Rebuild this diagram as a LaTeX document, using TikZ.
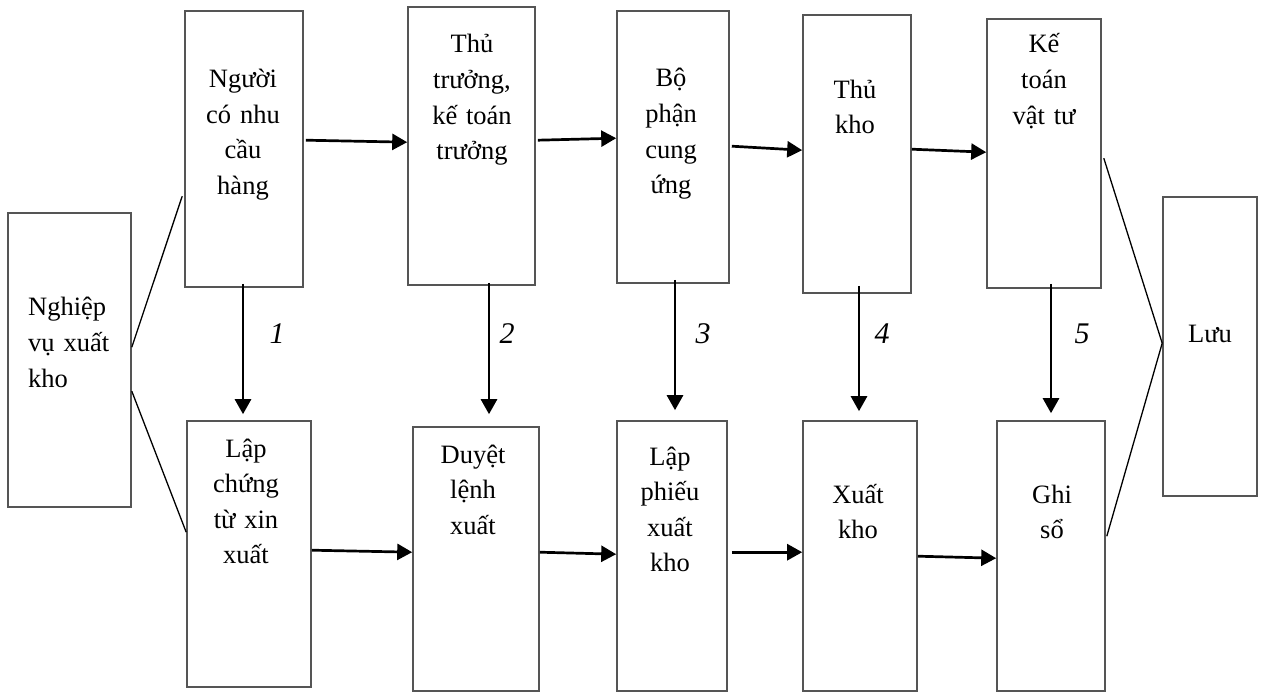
\documentclass[tikz,border=0pt]{standalone}
\usepackage{fontspec}
\setmainfont{Liberation Serif}
\usetikzlibrary{arrows.meta}
\definecolor{bordr}{RGB}{85,85,85}
\begin{document}
\begin{tikzpicture}[x=1pt,y=-1pt,
  box/.style={draw=bordr, line width=1.6pt, inner sep=0pt},
  lbl/.style={font=\fontsize{26.5}{35.5}\selectfont, text width=160pt, align=center, inner sep=0pt, anchor=base},
  num/.style={font=\fontsize{30}{30}\selectfont\itshape, inner sep=0pt, anchor=base},
  arr/.style={line width=2.7pt, -{Triangle[length=15pt,width=16pt]}},
  thin/.style={line width=1.3pt}]
\useasboundingbox (0,0) rectangle (1261,693);
% boxes
\node[box, minimum width=123pt, minimum height=294pt] (nv) at (69.5,360) {};
\node[box, minimum width=118pt, minimum height=276pt] (ng) at (244,149) {};
\node[box, minimum width=124pt, minimum height=266pt] (lc) at (249,554) {};
\node[box, minimum width=127pt, minimum height=278pt] (tt) at (471.5,146) {};
\node[box, minimum width=126pt, minimum height=264pt] (dl) at (476,559) {};
\node[box, minimum width=112pt, minimum height=272pt] (bp) at (673,147) {};
\node[box, minimum width=110pt, minimum height=270pt] (lp) at (672,556) {};
\node[box, minimum width=108pt, minimum height=278pt] (tk) at (857,154) {};
\node[box, minimum width=114pt, minimum height=270pt] (xk) at (860,556) {};
\node[box, minimum width=114pt, minimum height=269pt] (kt) at (1044,153.5) {};
\node[box, minimum width=108pt, minimum height=270pt] (gs) at (1051,556) {};
\node[box, minimum width=94pt, minimum height=299pt] (lu) at (1210,346.5) {};
% texts
\node[lbl, align=left, text width=110pt, anchor=base west, font=\fontsize{26.5}{36}\selectfont] (tnv) at (28,315) {Nghiệp\\vụ xuất\\kho};
\node[lbl] (tng) at (243,88) {Người\\có nhu\\cầu\\hàng};
\node[lbl] (tlc) at (246,457) {Lập\\chứng\\từ xin\\xuất};
\node[lbl] (ttt) at (472,53) {Thủ\\trưởng,\\kế toán\\trưởng};
\node[lbl] (tdl) at (473,463) {Duyệt\\lệnh\\xuất};
\node[lbl] (tbp) at (671,87) {Bộ\\phận\\cung\\ứng};
\node[lbl] (tlp) at (670,465) {Lập\\phiếu\\xuất\\kho};
\node[lbl] (ttk) at (855,98) {Thủ\\kho};
\node[lbl] (txk) at (858,503) {Xuất\\kho};
\node[lbl] (tkt) at (1044,53) {Kế\\toán\\vật tư};
\node[lbl] (tgs) at (1052,503) {Ghi\\sổ};
\node[lbl] (tlu) at (1210,342) {Lưu};
% horizontal arrows
\draw[arr] ([xshift=2pt,yshift=-130pt]ng.north east) -- ([yshift=-136pt]tt.north west);
\draw[arr] ([xshift=2pt,yshift=-134pt]tt.north east) -- ([yshift=-128pt]bp.north west);
\draw[arr] ([xshift=2pt,yshift=-136pt]bp.north east) -- ([yshift=-136pt]tk.north west);
\draw[arr] ([yshift=-135pt]tk.north east) -- ([yshift=-134pt]kt.north west);
\draw[arr] ([yshift=-130pt]lc.north east) -- ([yshift=-126pt]dl.north west);
\draw[arr] ([yshift=-126pt]dl.north east) -- ([yshift=-134pt]lp.north west);
\draw[arr] ([xshift=4pt,yshift=-132pt]lp.north east) -- ([yshift=-132pt]xk.north west);
\draw[arr] ([yshift=-136pt]xk.north east) -- ([yshift=-138pt]gs.north west);
% vertical arrows
\draw[arr] ([xshift=-1pt,yshift=4pt]ng.south) -- ([xshift=-1pt,yshift=6pt]ng.south |- lc.north);
\draw[arr] ([xshift=17.5pt,yshift=3pt]tt.south) -- ([xshift=17.5pt,yshift=12pt]tt.south |- dl.north);
\draw[arr] ([xshift=2pt,yshift=4pt]bp.south) -- ([xshift=2pt,yshift=10pt]bp.south |- lp.north);
\draw[arr] ([xshift=2pt,yshift=8pt]tk.south) -- ([xshift=2pt,yshift=9pt]tk.south |- xk.north);
\draw[arr] ([xshift=7pt,yshift=5pt]kt.south) -- ([xshift=7pt,yshift=7pt]kt.south |- gs.north);
% numbers
\node[num] (n1) at (277,343) {1};
\node[num] (n2) at (507,343) {2};
\node[num] (n3) at (703,343) {3};
\node[num] (n4) at (882,343) {4};
\node[num] (n5) at (1082,343) {5};
% thin lines
\draw[thin] ([yshift=-135pt]nv.north east) -- ([xshift=-2pt,yshift=-186pt]ng.north west);
\draw[thin] ([yshift=-179pt]nv.north east) -- ([yshift=-112pt]lc.north west);
\draw[thin] ([xshift=2pt,yshift=-140pt]kt.north east) -- ([yshift=-147pt]lu.north west);
\draw[thin] ([xshift=1pt,yshift=-116pt]gs.north east) -- ([yshift=-147pt]lu.north west);
\end{tikzpicture}
\end{document}
